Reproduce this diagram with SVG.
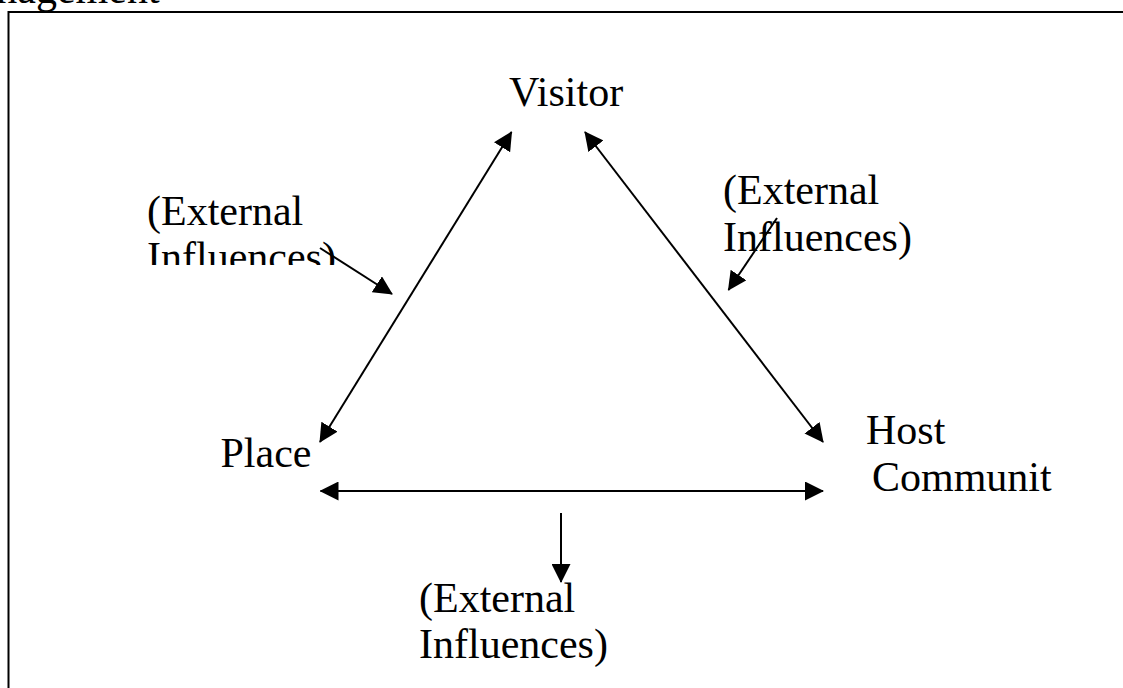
<svg xmlns="http://www.w3.org/2000/svg" width="1123" height="688" viewBox="0 0 1123 688">
  <defs>
    <style>
      text { font-family: "Liberation Serif", "Times New Roman", serif; font-size: 42px; fill: #000; }
      .edge { stroke: #000; stroke-width: 2; fill: none; }
    </style>
    <marker id="head" viewBox="0 0 19 19" refX="18" refY="9.5" markerWidth="19" markerHeight="19" markerUnits="userSpaceOnUse" orient="auto-start-reverse">
      <path d="M0,0 L19,9.5 L0,19 z" fill="#000"/>
    </marker>
    <clipPath id="leftClip">
      <rect x="100" y="150" width="300" height="115"/>
    </clipPath>
  </defs>

  <rect width="1123" height="688" fill="#fff"/>

  <!-- heading text, partly above the page edge -->
  <text x="-55" y="3">management</text>

  <!-- frame -->
  <rect x="8.5" y="12" width="1130" height="700" fill="none" stroke="#000" stroke-width="2"/>

  <!-- connectors -->
  <g id="connectors">
    <line class="edge" x1="511.5" y1="132" x2="320" y2="442" marker-start="url(#head)" marker-end="url(#head)"/>
    <line class="edge" x1="585" y1="132" x2="823" y2="442" marker-start="url(#head)" marker-end="url(#head)"/>
    <line class="edge" x1="320.5" y1="491" x2="823" y2="491" marker-start="url(#head)" marker-end="url(#head)"/>
    <line class="edge" x1="561" y1="513" x2="561" y2="582" marker-end="url(#head)"/>
    <line class="edge" x1="320" y1="248" x2="392" y2="294" marker-end="url(#head)"/>
    <line class="edge" x1="777" y1="218" x2="728.5" y2="290" marker-end="url(#head)"/>
  </g>

  <!-- nodes -->
  <g id="visitor">
    <text x="509" y="106">Visitor</text>
  </g>
  <g id="place">
    <text x="220.5" y="467">Place</text>
  </g>
  <g id="host-community">
    <text x="866" y="444">Host</text>
    <text x="872" y="491">Communit</text>
  </g>
  <g id="external-left" clip-path="url(#leftClip)">
    <text x="147" y="225">(External</text>
    <text x="147" y="271">Influences)</text>
  </g>
  <g id="external-right">
    <text x="723" y="204">(External</text>
    <text x="723" y="251">Influences)</text>
  </g>
  <g id="external-bottom">
    <text x="419" y="612">(External</text>
    <text x="419" y="658">Influences)</text>
  </g>
</svg>
